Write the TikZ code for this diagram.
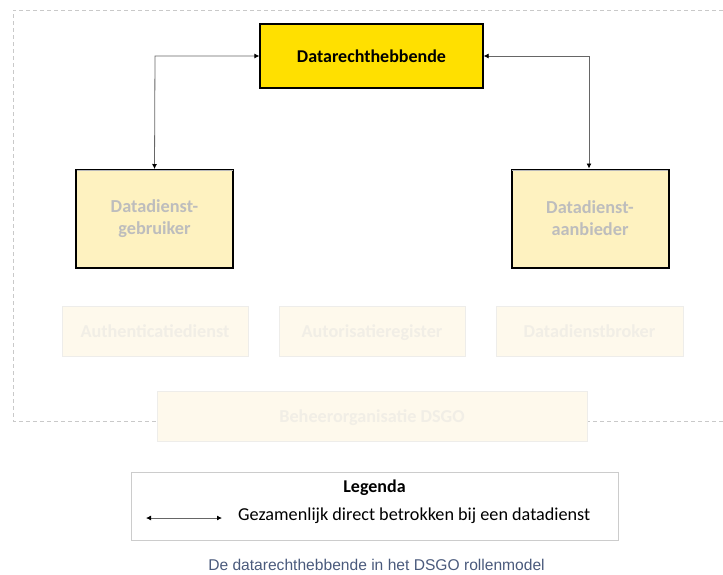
\documentclass[tikz,border=0pt]{standalone}
\usepackage{fontspec}
\setmainfont{Carlito}
\newfontfamily\capfont{Liberation Sans}
\usetikzlibrary{arrows.meta,calc}
\definecolor{topyellow}{HTML}{FFE000}
\definecolor{paleyellow}{HTML}{FEF2C0}
\definecolor{faintfill}{HTML}{FEF9EC}
\definecolor{faintborder}{HTML}{EEEDEA}
\definecolor{fainttext}{HTML}{F1EEE6}
\definecolor{greytext}{HTML}{BDBDBD}
\definecolor{captioncol}{HTML}{4A5A7C}
\definecolor{dashcol}{HTML}{C9C9C9}
\tikzset{
  topbox/.style={draw=black, line width=1.3pt, fill=topyellow, minimum width=223pt, minimum height=64pt, inner sep=0pt, font=\fontsize{18}{21}\selectfont\bfseries},
  rolebox/.style={draw=black, line width=2pt, fill=paleyellow, minimum width=157pt, minimum height=98pt, inner sep=0pt, align=center, text=greytext, font=\fontsize{18.3}{22}\selectfont\bfseries},
  fadebox/.style={draw=faintborder, line width=1pt, fill=faintfill, minimum height=50pt, inner sep=0pt, text height=12.5pt, text depth=0.5pt, text=fainttext, font=\fontsize{18.2}{21}\selectfont\bfseries},
  link/.style={draw=gray!80!black, line width=0.8pt, {Latex[length=5pt,width=5pt,black]}-{Latex[length=5pt,width=5pt,black]}},
}
\begin{document}
\begin{tikzpicture}[x=1pt,y=-1pt]
\useasboundingbox (0,0) rectangle (723,574);
% dashed boundary
\coordinate (bR) at (723,10);
\coordinate (bTL) at (13,10);
\coordinate (bBL) at (13,421);
\coordinate (bBR) at (723,421);
\draw[dashcol, line width=0.8pt, dash pattern=on 4pt off 3pt] (bR) -- (bTL) -- (bBL) -- (bBR);
% main nodes
\node[topbox] (dr) at (371.5,56) {Datarechthebbende};
\node[rolebox] (gb) at (154.5,219) {Datadienst-\\gebruiker};
\node[rolebox] (ab) at (590,218.5) {Datadienst-\\aanbieder};
\draw[gray!55, line width=1pt] ($(gb.north west)+(1.5pt,-1.5pt)$) -- ($(gb.north east)+(-1.5pt,-1.5pt)$);
\draw[gray!55, line width=1pt] ($(ab.north west)+(1.5pt,-1.5pt)$) -- ($(ab.north east)+(-1.5pt,-1.5pt)$);
% faint nodes
\node[fadebox, minimum width=186pt] (auth) at (155,331) {Authenticatiedienst};
\node[fadebox, minimum width=186pt] (autor) at (372,331) {Autorisatieregister};
\node[fadebox, minimum width=187pt] (broker) at (589.5,331) {Datadienstbroker};
\node[fadebox, minimum width=430pt] (beheer) at (372,416) {Beheerorganisatie DSGO};
% connectors
\coordinate (cl) at (155,56);
\coordinate (cr) at (589,56);
\draw[link] (gb.north) -- (cl) -- (dr.west);
\draw[link] (ab.north -| cr) -- (cr) -- (dr.east);
% legend
\node[draw=gray!40, line width=0.8pt, minimum width=487pt, minimum height=68pt, inner sep=0pt] (leg) at (374.5,506) {};
\node[font=\fontsize{18}{21}\selectfont\bfseries] (legt) at (374.5,488) {Legenda};
\coordinate (la) at (146,518);
\coordinate (lb) at (222,518);
\draw[link] (la) -- (lb);
\node[anchor=west, font=\fontsize{18.2}{21}\selectfont, inner sep=0pt] (legd) at (238,516) {Gezamenlijk direct betrokken bij een datadienst};
% caption
\node[font=\capfont\fontsize{15.6}{18}\selectfont, text=captioncol] (cap) at (376.5,565) {De datarechthebbende in het DSGO rollenmodel};
\end{tikzpicture}
\end{document}
